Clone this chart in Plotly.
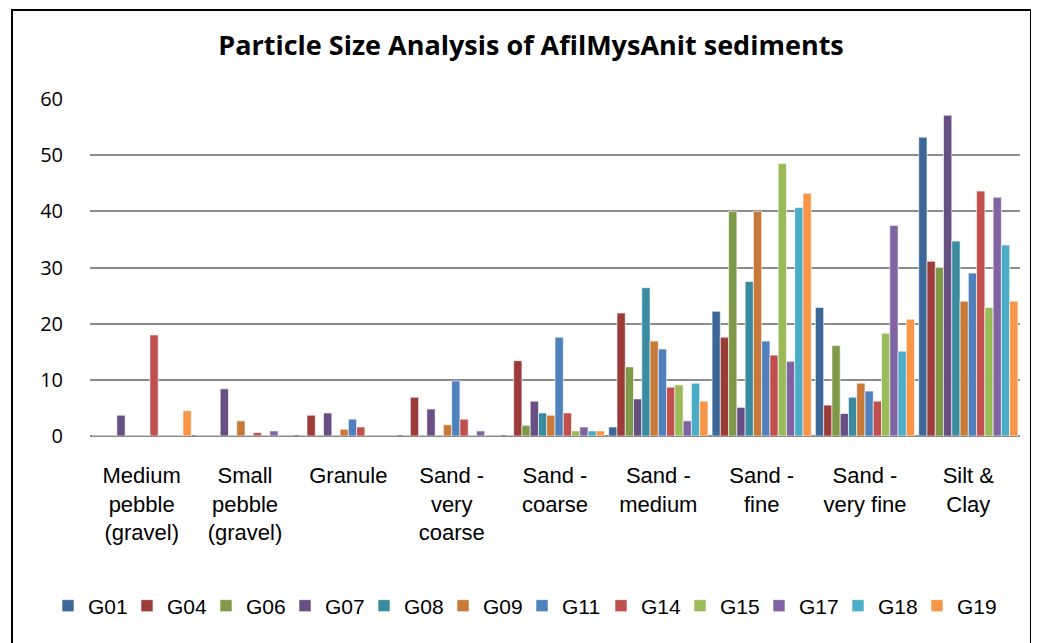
import plotly.graph_objects as go

categories = ["Medium<br>pebble<br>(gravel)", "Small<br>pebble<br>(gravel)", "Granule",
              "Sand -<br>very<br>coarse", "Sand -<br>coarse", "Sand -<br>medium",
              "Sand -<br>fine", "Sand -<br>very fine", "Silt &<br>Clay"]

G01 = [0, 0, 0, 0, 0, 1.6, 22.2, 22.9, 53.2]
G04 = [0, 0, 3.7, 6.9, 13.4, 21.9, 17.6, 5.5, 31.1]
G06 = [0, 0, 0, 0, 1.9, 12.3, 40.0, 16.1, 30.0]
G07 = [3.7, 8.4, 4.1, 4.8, 6.2, 6.6, 5.1, 4.0, 57.1]
G08 = [0, 0, 0, 0, 4.1, 26.4, 27.5, 6.9, 34.7]
G09 = [0, 2.7, 1.2, 2.0, 3.7, 16.9, 40.0, 9.4, 24.0]
G11 = [0, 0, 3.0, 9.8, 17.6, 15.5, 16.9, 8.0, 29.0]
G14 = [18.0, 0.6, 1.6, 3.0, 4.1, 8.7, 14.4, 6.2, 43.6]
G15 = [0, 0, 0, 0, 0.9, 9.1, 48.5, 18.3, 22.9]
G17 = [0, 0.9, 0, 0.9, 1.6, 2.7, 13.3, 37.5, 42.5]
G18 = [0, 0, 0, 0, 0.9, 9.4, 40.7, 15.1, 34.0]
G19 = [4.5, 0, 0, 0, 0.9, 6.2, 43.2, 20.8, 24.0]

series_names = ["G01", "G04", "G06", "G07", "G08", "G09", "G11", "G14", "G15", "G17", "G18", "G19"]
series_values = [G01, G04, G06, G07, G08, G09, G11, G14, G15, G17, G18, G19]
colors = ["#3D6797", "#9C3C3A", "#7E9A48", "#674F83", "#3B8BA0", "#C77A3A",
          "#4F81BD", "#C0504D", "#9BBB59", "#8064A2", "#4BACC6", "#F79646"]

fig = go.Figure()
for name, vals, col in zip(series_names, series_values, colors):
    fig.add_trace(go.Bar(x=categories, y=vals, name=name,
                         marker=dict(color=col, line=dict(color="rgba(255,255,255,0.6)", width=1))))

# page body has an 8px margin; work in screen coordinates and convert
OFF = 8
W, H = 1039 - OFF, 643 - OFF
L, R, T, B = 90 - OFF, 1020 - OFF, 99 - OFF, 436 - OFF
pw, ph = R - L, B - T

def px(x):
    return (x - OFF - L) / pw

def py(y):
    return (B - (y - OFF)) / ph

fig.update_layout(
    width=W, height=H,
    margin=dict(l=L, r=W - R, t=T, b=H - B),
    paper_bgcolor="white", plot_bgcolor="white",
    barmode="group", bargap=0.04, bargroupgap=0.0,
    title=dict(text="<b>Particle Size Analysis of AfilMysAnit sediments</b>",
               x=px(531), xref="paper", xanchor="center",
               y=1 - (46 - OFF) / H, yanchor="middle",
               font=dict(family="Open Sans", size=27, color="black")),
    font=dict(family="Liberation Sans", color="black"),
    xaxis=dict(showgrid=False, showline=False, ticks="", ticklabelstandoff=24,
               tickfont=dict(family="Liberation Sans", size=22, color="black"),
               tickangle=0),
    yaxis=dict(range=[0, 60], dtick=10, showgrid=True, gridcolor="#8C8C8C", gridwidth=2,
               zeroline=True, zerolinecolor="#8C8C8C", zerolinewidth=2,
               showline=False, ticks="", ticklabelstandoff=26,
               tickfont=dict(family="Open Sans", size=20, color="black")),
    legend=dict(orientation="h", x=px(48), xanchor="left", y=py(606), yanchor="middle",
                font=dict(family="Liberation Sans", size=21, color="black"),
                entrywidth=34, entrywidthmode="pixels", traceorder="normal",
                bgcolor="rgba(0,0,0,0)"),
    showlegend=True,
)

# chart border
fig.add_shape(type="path", xref="paper", yref="paper",
              path=f"M {px(12)},{py(700)} L {px(12)},{py(10)} L {px(1031)},{py(10)} L {px(1031)},{py(700)}",
              line=dict(color="black", width=2))

fig.write_html("out.html")
